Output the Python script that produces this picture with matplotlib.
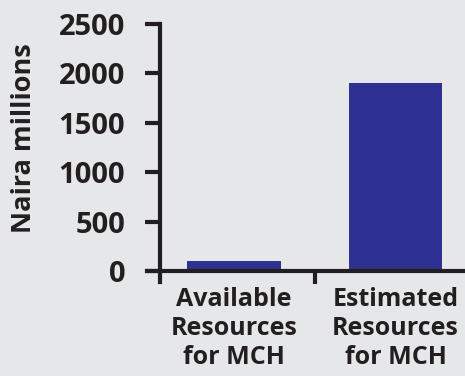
import matplotlib.pyplot as plt

categories = ['Available\nResources\nfor MCH', 'Estimated\nResources\nfor MCH']
values = [100, 1900]
yticks = [0, 500, 1000, 1500, 2000, 2500]

bg = '#e6e7e8'
ink = '#231f20'
bar_color = '#2e3192'

plt.rcParams['font.family'] = ['Open Sans', 'DejaVu Sans']

fig = plt.figure(figsize=(4.65, 3.76), dpi=100, facecolor=bg)
ax = fig.add_axes([0.316, 0.25, 0.684, 0.686], facecolor=bg)

x = range(len(categories))
ax.bar(x, values, width=0.58, color=bar_color, zorder=2)

ax.set_xlim(-0.54, 1.43)
ax.set_ylim(-111, 2500)

for s in ['top', 'right']:
    ax.spines[s].set_visible(False)
ax.spines['left'].set_position(('data', -0.46))
ax.spines['bottom'].set_position(('data', 0))
for s in ['left', 'bottom']:
    ax.spines[s].set_linewidth(3)
    ax.spines[s].set_color(ink)
    ax.spines[s].set_zorder(3)

ax.set_yticks(yticks)
ax.set_yticklabels([str(v) for v in yticks], fontsize=21, fontweight='bold', color=ink)
ax.tick_params(axis='y', length=11, width=3, color=ink, pad=14)

ax.set_xticks([0.5])
ax.set_xticklabels([''])
ax.tick_params(axis='x', length=9, width=3, color=ink)

# category labels drawn by hand so they sit centred under each bar
for i, lab in enumerate(categories):
    ax.text(i, -160, lab, ha='center', va='top', fontsize=18, fontweight='bold',
            color=ink, linespacing=1.22)

fig.text(24 / 465, 1 - 138 / 376, 'Naira millions', rotation=90, ha='center', va='center',
         fontsize=19.5, fontweight='bold', color=ink)

plt.savefig('out.png', dpi=100, facecolor=bg)
